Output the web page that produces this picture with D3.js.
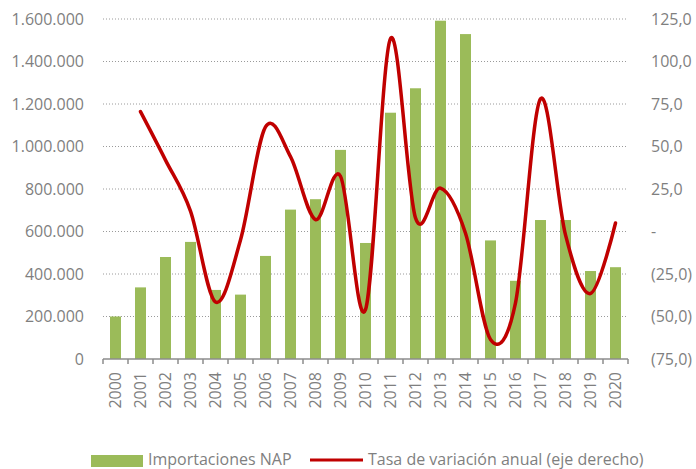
<!DOCTYPE html>
<html>
<head>
<meta charset="utf-8">
<script src="https://cdn.jsdelivr.net/npm/d3@7"></script>
<style>
  body { margin: 0; background: #fff; }
  text { font-family: "Open Sans", sans-serif; fill: #7f7f7f; }
</style>
</head>
<body>
<div id="chart"></div>
<script>
const years = ['2000', '2001', '2002', '2003', '2004', '2005', '2006', '2007', '2008', '2009', '2010',
    '2011', '2012', '2013', '2014', '2015', '2016', '2017', '2018', '2019', '2020'];
const imports = [200000, 337000, 480000, 551000, 325000, 303000, 485000, 703000, 752000, 984000, 546000,
    1159000, 1274000, 1592000, 1529000, 558000, 368000, 654000, 654000, 414000, 432000];
// tasa de variación anual, desde 2001
const rateYears = years.slice(1);
const rates = [70.5, 42, 12, -41.5, -5, 61.5, 44, 7, 32.5, -46, 113.5,
    8, 25.5, -1, -63.5, -42, 78, -2, -36.5, 5];
const leftTicks = [0, 200000, 400000, 600000, 800000, 1000000, 1200000, 1400000, 1600000];
const rightTicks = [-75, -50, -25, 0, 25, 50, 75, 100, 125];
const legendLabels = ['Importaciones NAP', 'Tasa de variación anual (eje derecho)'];

const width = 696;
const height = 469;
const plotLeft = 103;
const plotRight = 628;
const plotTop = 19;
const plotBottom = 359;

const es = d3.formatLocale({ decimal: ',', thousands: '.', grouping: [3], currency: ['', '€'] });
const fmtLeft = es.format(',.0f');
const fmtOne = es.format(',.1f');
const fmtRight = v => (v === 0 ? '-' : v < 0 ? `(${fmtOne(-v)})` : fmtOne(v));

const svg = d3.select('#chart')
    .append('svg')
    .attr('width', width)
    .attr('height', height);

const x = d3.scaleBand()
    .domain(years)
    .range([plotLeft, plotRight])
    .paddingInner(0.56)
    .paddingOuter(0.28);

const yL = d3.scaleLinear().domain([0, 1600000]).range([plotBottom, plotTop]);
const yR = d3.scaleLinear().domain([-75, 125]).range([plotBottom, plotTop]);

// gridlines
svg.append('g')
    .selectAll('line')
    .data(leftTicks.filter(d => d > 0))
    .enter()
    .append('line')
    .attr('x1', plotLeft)
    .attr('x2', plotRight)
    .attr('y1', d => yL(d))
    .attr('y2', d => yL(d))
    .attr('stroke', '#9a9a9a')
    .attr('stroke-width', 1)
    .attr('stroke-dasharray', '1,2');

// left labels
svg.append('g')
    .selectAll('text')
    .data(leftTicks)
    .enter()
    .append('text')
    .attr('x', 84)
    .attr('y', d => yL(d))
    .attr('dy', '0.35em')
    .attr('text-anchor', 'end')
    .style('font-size', '16px')
    .text(fmtLeft);

// right labels
svg.append('g')
    .selectAll('text')
    .data(rightTicks)
    .enter()
    .append('text')
    .attr('x', 651)
    .attr('y', d => yR(d))
    .attr('dy', '0.35em')
    .attr('text-anchor', 'start')
    .style('font-size', '16px')
    .text(fmtRight);

// bars
svg.append('g')
    .selectAll('rect')
    .data(imports)
    .enter()
    .append('rect')
    .attr('x', (d, i) => x(years[i]))
    .attr('width', x.bandwidth())
    .attr('y', d => yL(d))
    .attr('height', d => yL(0) - yL(d))
    .attr('fill', '#9bbb59');

// x axis
const gap = (x.step() - x.bandwidth()) / 2;
const bounds = years.map(d => x(d) - gap).concat([x(years[years.length - 1]) + x.bandwidth() + gap]);
const xAxis = svg.append('g').attr('stroke', '#8c8c8c').attr('stroke-width', 1.5);
xAxis.append('line')
    .attr('x1', plotLeft)
    .attr('x2', plotRight)
    .attr('y1', yL(0))
    .attr('y2', yL(0));
xAxis.selectAll('line.tick')
    .data(bounds)
    .enter()
    .append('line')
    .attr('class', 'tick')
    .attr('x1', d => d)
    .attr('x2', d => d)
    .attr('y1', yL(0))
    .attr('y2', yL(0) + 5);

svg.append('g')
    .selectAll('text')
    .data(years)
    .enter()
    .append('text')
    .attr('transform', d => `translate(${x(d) + x.bandwidth() / 2}, 372) rotate(-90)`)
    .attr('dy', '0.35em')
    .attr('text-anchor', 'end')
    .style('font-size', '16px')
    .text(d => d);

// rate line
const line = d3.line()
    .curve(d3.curveCardinal.tension(0))
    .x((d, i) => x(rateYears[i]) + x.bandwidth() / 2)
    .y(d => yR(d));

svg.append('path')
    .datum(rates)
    .attr('d', line)
    .attr('fill', 'none')
    .attr('stroke', '#c00000')
    .attr('stroke-width', 3.5)
    .attr('stroke-linecap', 'round');

// legend
const legend = svg.append('g');
legend.append('rect')
    .attr('x', 91)
    .attr('y', 455)
    .attr('width', 52)
    .attr('height', 12)
    .attr('fill', '#9bbb59');
legend.append('text')
    .attr('x', 148)
    .attr('y', 465)
    .style('font-size', '16px')
    .text(legendLabels[0]);
legend.append('line')
    .attr('x1', 310)
    .attr('x2', 363)
    .attr('y1', 460)
    .attr('y2', 460)
    .attr('stroke', '#c00000')
    .attr('stroke-width', 3);
legend.append('text')
    .attr('x', 368)
    .attr('y', 465)
    .style('font-size', '16px')
    .text(legendLabels[1]);
</script>
</body>
</html>
